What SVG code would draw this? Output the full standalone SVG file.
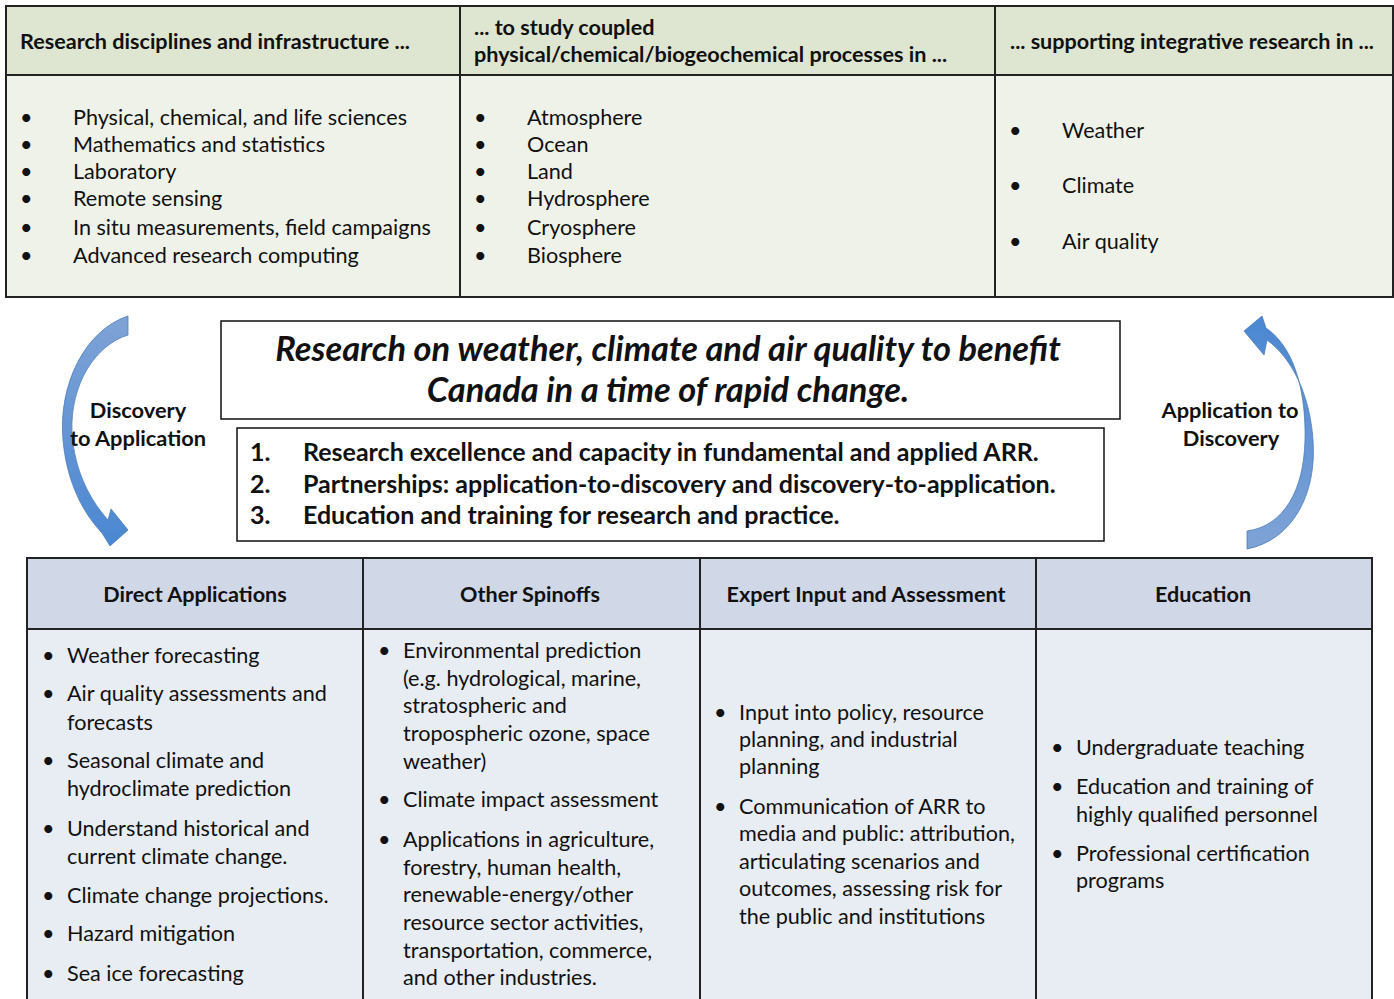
<svg xmlns="http://www.w3.org/2000/svg" width="1394" height="999" viewBox="0 0 1394 999">
<style>
text{font-family:Lato,"Open Sans","Liberation Sans",sans-serif;fill:#111}
.h{font-weight:700;font-size:21.6px}
.b{font-size:21.6px}
.s{font-size:21.6px}
.ttl{font-weight:700;font-style:italic;font-size:34.4px}
.num{font-weight:700;font-size:25px}
.lab{font-weight:700;font-size:21.8px}
.cell{stroke:#222;stroke-width:2}
.box{fill:#fff;stroke:#111;stroke-width:1.5}
.arr{fill:url(#ag);stroke:#4a7ebb;stroke-width:0.8}
</style>
<defs>
<linearGradient id="ag" x1="0" y1="0" x2="0" y2="1">
<stop offset="0" stop-color="#7fa3d6"/>
<stop offset="1" stop-color="#4a87d2"/>
</linearGradient>
<linearGradient id="ag2" x1="0" y1="1" x2="0" y2="0">
<stop offset="0" stop-color="#7fa3d6"/>
<stop offset="1" stop-color="#4a87d2"/>
</linearGradient>
</defs>

<g id="top-table">
<rect x="6" y="6" width="1387" height="69" fill="#dee6d2"/>
<rect x="6" y="75" width="1387" height="222" fill="#eff2e9"/>
<rect x="6" y="6" width="1387" height="291" fill="none" class="cell"/>
<line x1="6" y1="75" x2="1393" y2="75" class="cell"/>
<line x1="460" y1="6" x2="460" y2="297" class="cell"/>
<line x1="995" y1="6" x2="995" y2="297" class="cell"/>
</g>

<g id="top-col1">
<text class="h" x="20" y="49">Research disciplines and infrastructure ...</text>
<g class="b">
<text x="20" y="125">•</text><text x="73" y="125">Physical, chemical,  and life sciences</text>
<text x="20" y="152">•</text><text x="73" y="152">Mathematics and statistics</text>
<text x="20" y="179">•</text><text x="73" y="179">Laboratory</text>
<text x="20" y="206">•</text><text x="73" y="206">Remote sensing</text>
<text x="20" y="235">•</text><text x="73" y="235">In situ measurements, field campaigns</text>
<text x="20" y="263">•</text><text x="73" y="263">Advanced research computing</text>
</g>
</g>

<g id="top-col2">
<text class="h" x="474" y="35">... to study coupled</text>
<text class="h" x="474" y="62">physical/chemical/biogeochemical processes in ...</text>
<g class="b">
<text x="474" y="125">•</text><text x="527" y="125">Atmosphere</text>
<text x="474" y="152">•</text><text x="527" y="152">Ocean</text>
<text x="474" y="179">•</text><text x="527" y="179">Land</text>
<text x="474" y="206">•</text><text x="527" y="206">Hydrosphere</text>
<text x="474" y="235">•</text><text x="527" y="235">Cryosphere</text>
<text x="474" y="263">•</text><text x="527" y="263">Biosphere</text>
</g>
</g>

<g id="top-col3">
<text class="h" x="1010" y="49">... supporting integrative research in ...</text>
<g class="b">
<text x="1009" y="138">•</text><text x="1062" y="138">Weather</text>
<text x="1009" y="193">•</text><text x="1062" y="193">Climate</text>
<text x="1009" y="249">•</text><text x="1062" y="249">Air quality</text>
</g>
</g>

<g id="connectors">
<path class="arr" d="M128,316 C85,330 58,385 63,440 C67,485 85,515 102,533 L110,546 L128,530 L111,509 L108,520 C90,500 74,470 72,432 C70,385 95,345 128,335 Z"/>
<path class="arr" style="fill:url(#ag2)" d="M1247,549 C1292,540 1317,495 1313,440 C1310,395 1292,358 1267,340 L1264,355 L1244,331 L1262,316 L1266,328 C1298,350 1306,400 1305,440 C1304,490 1284,526 1247,531 Z"/>
</g>

<g id="label-d2a">
<text class="lab" x="138" y="418" text-anchor="middle">Discovery</text>
<text class="lab" x="138" y="446" text-anchor="middle">to Application</text>
</g>
<g id="label-a2d">
<text class="lab" x="1230" y="418" text-anchor="middle">Application to</text>
<text class="lab" x="1231" y="446" text-anchor="middle">Discovery</text>
</g>

<g id="vision">
<rect x="221" y="321" width="899" height="98" class="box"/>
<text class="ttl" x="668" y="361" text-anchor="middle">Research on weather, climate and air quality to benefit</text>
<text class="ttl" x="668" y="402" text-anchor="middle">Canada in a time of rapid change.</text>
</g>

<g id="goals">
<rect x="237" y="428" width="867" height="113" class="box"/>
<text class="num" x="250" y="461">1.</text><text class="num" x="303" y="461">Research excellence and capacity in fundamental and applied ARR.</text>
<text class="num" x="250" y="493">2.</text><text class="num" x="303" y="493">Partnerships: application-to-discovery and discovery-to-application.</text>
<text class="num" x="250" y="524">3.</text><text class="num" x="303" y="524">Education and training for research and practice.</text>
</g>

<g id="bottom-table">
<rect x="27" y="558" width="1345" height="71" fill="#d0d8e7"/>
<rect x="27" y="629" width="1345" height="380" fill="#e8ecf3"/>
<rect x="27" y="558" width="1345" height="451" fill="none" class="cell"/>
<line x1="27" y1="629" x2="1372" y2="629" class="cell"/>
<line x1="363" y1="558" x2="363" y2="999" class="cell"/>
<line x1="700" y1="558" x2="700" y2="999" class="cell"/>
<line x1="1036" y1="558" x2="1036" y2="999" class="cell"/>
</g>

<g id="direct-applications">
<text class="h" x="195" y="602" text-anchor="middle">Direct Applications</text>
<g class="s">
<text x="42" y="663">•</text><text x="67" y="663">Weather forecasting</text>
<text x="42" y="701">•</text><text x="67" y="701">Air quality assessments and</text>
<text x="67" y="730">forecasts</text>
<text x="42" y="768">•</text><text x="67" y="768">Seasonal climate  and</text>
<text x="67" y="796">hydroclimate prediction</text>
<text x="42" y="836">•</text><text x="67" y="836">Understand historical and</text>
<text x="67" y="864">current climate change.</text>
<text x="42" y="903">•</text><text x="67" y="903">Climate change projections.</text>
<text x="42" y="941">•</text><text x="67" y="941">Hazard mitigation</text>
<text x="42" y="981">•</text><text x="67" y="981">Sea ice  forecasting</text>
</g>
</g>

<g id="other-spinoffs">
<text class="h" x="530" y="602" text-anchor="middle">Other Spinoffs</text>
<g class="s">
<text x="378" y="658">•</text><text x="403" y="658">Environmental prediction</text>
<text x="403" y="686">(e.g. hydrological, marine,</text>
<text x="403" y="713">stratospheric and</text>
<text x="403" y="741">tropospheric ozone, space</text>
<text x="403" y="769">weather)</text>
<text x="378" y="807">•</text><text x="403" y="807">Climate impact assessment</text>
<text x="378" y="847">•</text><text x="403" y="847">Applications in agriculture,</text>
<text x="403" y="875">forestry, human health,</text>
<text x="403" y="902">renewable-energy/other</text>
<text x="403" y="930">resource sector activities,</text>
<text x="403" y="958">transportation, commerce,</text>
<text x="403" y="985">and other industries.</text>
</g>
</g>

<g id="expert-input">
<text class="h" x="866" y="602" text-anchor="middle">Expert Input and Assessment</text>
<g class="s">
<text x="714" y="720">•</text><text x="739" y="720">Input into policy, resource</text>
<text x="739" y="747">planning, and industrial</text>
<text x="739" y="774">planning</text>
<text x="714" y="814">•</text><text x="739" y="814">Communication of ARR to</text>
<text x="739" y="841">media and public: attribution,</text>
<text x="739" y="869">articulating scenarios and</text>
<text x="739" y="896">outcomes, assessing risk for</text>
<text x="739" y="924">the public and institutions</text>
</g>
</g>

<g id="education">
<text class="h" x="1203" y="602" text-anchor="middle">Education</text>
<g class="s">
<text x="1051" y="755">•</text><text x="1076" y="755">Undergraduate teaching</text>
<text x="1051" y="794">•</text><text x="1076" y="794">Education and training of</text>
<text x="1076" y="822">highly qualified personnel</text>
<text x="1051" y="861">•</text><text x="1076" y="861">Professional certification</text>
<text x="1076" y="888">programs</text>
</g>
</g>
</svg>
